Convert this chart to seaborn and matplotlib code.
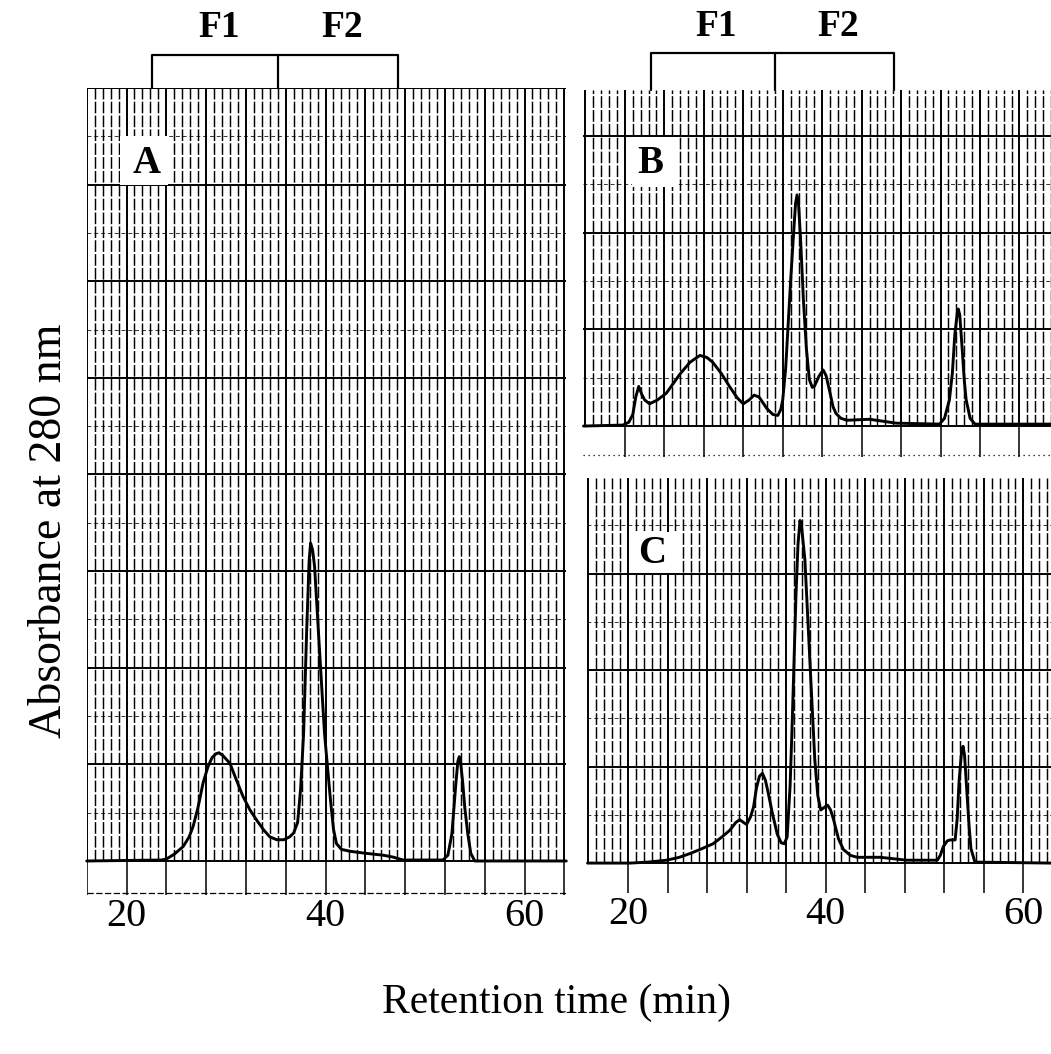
import numpy as np
import pandas as pd
import matplotlib
matplotlib.use("Agg")
import matplotlib.pyplot as plt
from matplotlib.patches import Rectangle
import seaborn as sns

# chromatogram traces (time in min, absorbance in chart divisions)
time_a = [16.0, 23.5, 24.0, 24.8, 25.7, 26.3, 26.7, 27.2, 27.7, 28.2, 28.6, 29.0, 29.3, 29.7,
          30.4, 31.0, 31.7, 32.4, 33.1, 33.8, 34.4, 35.1, 35.8, 36.4, 36.8, 37.2, 37.5, 37.8,
          38.1, 38.35, 38.5, 38.7, 38.9, 39.4, 39.9, 40.5, 40.8, 41.1, 41.6, 42.5, 44.0, 45.8,
          46.8, 47.8, 51.8, 52.3, 52.7, 53.1, 53.3, 53.45, 53.6, 53.8, 54.0, 54.3, 54.6, 55.0,
          64.2]
abs_a = [0.0, 0.01, 0.02, 0.07, 0.15, 0.25, 0.36, 0.56, 0.81, 0.98, 1.07, 1.11, 1.12, 1.09,
         1.01, 0.85, 0.67, 0.53, 0.42, 0.32, 0.25, 0.22, 0.22, 0.25, 0.29, 0.40, 0.75, 1.32,
         2.36, 3.10, 3.29, 3.22, 3.05, 2.18, 1.32, 0.63, 0.33, 0.18, 0.12, 0.10, 0.08, 0.06,
         0.04, 0.01, 0.01, 0.06, 0.28, 0.80, 1.03, 1.08, 1.00, 0.80, 0.55, 0.28, 0.08, 0.0,
         0.0]

time_b = [15.8, 19.8, 20.4, 20.8, 21.1, 21.4, 21.7, 22.0, 22.5, 23.3, 24.2, 25.6, 26.6, 27.6,
          28.3, 28.9, 29.8, 30.6, 31.4, 32.0, 32.6, 33.1, 33.6, 34.4, 35.0, 35.5, 35.8, 36.0,
          36.3, 36.5, 36.8, 37.1, 37.3, 37.45, 37.6, 37.8, 38.1, 38.4, 38.7, 39.0, 39.2, 39.7,
          40.1, 40.4, 40.8, 41.1, 41.4, 41.9, 42.5, 44.8, 47.5, 51.9, 52.4, 52.9, 53.2, 53.45,
          53.7, 53.8, 53.95, 54.2, 54.4, 54.6, 55.0, 55.5, 63.2]
abs_b = [0.0, 0.01, 0.04, 0.12, 0.30, 0.41, 0.33, 0.27, 0.23, 0.27, 0.34, 0.54, 0.66, 0.73,
         0.71, 0.66, 0.54, 0.41, 0.29, 0.23, 0.27, 0.32, 0.30, 0.18, 0.12, 0.11, 0.17, 0.27,
         0.60, 0.96, 1.50, 1.99, 2.30, 2.39, 2.30, 1.95, 1.30, 0.80, 0.48, 0.40, 0.41, 0.52,
         0.58, 0.52, 0.34, 0.20, 0.13, 0.08, 0.06, 0.07, 0.03, 0.02, 0.08, 0.27, 0.55, 0.95,
         1.17, 1.21, 1.15, 0.79, 0.48, 0.27, 0.08, 0.02, 0.02]

time_c = [15.9, 20.2, 22.0, 23.9, 25.2, 26.3, 27.5, 28.6, 29.5, 30.3, 30.9, 31.3, 31.7, 32.0,
          32.4, 32.7, 33.0, 33.3, 33.6, 33.9, 34.2, 34.6, 35.1, 35.5, 35.8, 36.1, 36.4, 36.6,
          36.8, 37.0, 37.2, 37.4, 37.6, 37.9, 38.4, 38.9, 39.2, 39.5, 39.9, 40.2, 40.5, 40.8,
          41.3, 41.8, 42.5, 43.2, 45.5, 48.2, 51.3, 51.6, 51.9, 52.3, 52.6, 53.1, 53.3, 53.5,
          53.75, 53.9, 54.05, 54.3, 54.5, 54.7, 55.1, 62.8]
abs_c = [0.0, 0.0, 0.01, 0.03, 0.06, 0.10, 0.15, 0.20, 0.27, 0.34, 0.42, 0.45, 0.42, 0.40,
         0.48, 0.58, 0.78, 0.90, 0.93, 0.86, 0.72, 0.52, 0.30, 0.21, 0.20, 0.27, 0.80, 1.41,
         2.10, 2.79, 3.30, 3.55, 3.45, 3.14, 2.10, 1.07, 0.70, 0.55, 0.58, 0.60, 0.55, 0.45,
         0.25, 0.14, 0.08, 0.06, 0.06, 0.03, 0.03, 0.08, 0.17, 0.23, 0.24, 0.24, 0.45, 0.85,
         1.15, 1.21, 1.12, 0.72, 0.40, 0.15, 0.01, 0.0]

x_ticks = [20, 40, 60]
fraction_edges = [22.6, 35.2, 47.3]
fraction_names = ["F1", "F2"]
panel_names = ["A", "B", "C"]

sns.set_theme(style="white")
plt.rcParams["font.family"] = ["Liberation Serif", "DejaVu Serif"]
plt.rcParams["text.color"] = "black"
plt.rcParams["xtick.color"] = "black"

W, H = 1051, 1054
fig = plt.figure(figsize=(W / 100, H / 100), dpi=100)


def px_axes(left, top, right, bottom):
    return fig.add_axes([left / W, 1 - bottom / H, (right - left) / W, (bottom - top) / H])


# axes placed in pixel boxes, limits chosen so the chart paper lines up
ax_a = px_axes(86.7, 88, 566.3, 895)
ax_a.set_xlim(16, 64.2)
ax_a.set_ylim(-0.352, 8.0)

ax_b = px_axes(583, 90, 1051, 457)
ax_b.set_xlim(15.75, 63.2)
ax_b.set_ylim(-0.32, 3.475)

ax_c = px_axes(587, 478, 1051, 893)
ax_c.set_xlim(15.85, 62.8)
ax_c.set_ylim(-0.31, 3.99)


def chart_paper(ax, n_major, first_box, top_line=False, bottom_line=None):
    x0, x1 = ax.get_xlim()
    y0, y1 = ax.get_ylim()
    ytop = min(y1, n_major)
    # fine vertical rulings every 0.8 min, heavier every 4 min
    for x in np.arange(16, x1 + 0.01, 0.8):
        if abs((x - 16) / 4 - round((x - 16) / 4)) < 1e-6:
            ax.plot([x, x], [0, y1], color="black", lw=1.4, zorder=1)
        else:
            ax.plot([x, x], [0, y1], color="black", lw=1.05, ls=(0, (8, 1.5)), zorder=1)
    # boxes below the baseline
    for x in np.arange(first_box, x1 + 0.01, 4):
        ax.plot([x, x], [y0, 0], color="black", lw=1.1, zorder=1)
    # horizontal rulings
    for y in np.arange(0, ytop + 0.01, 1):
        ax.axhline(y, color="black", lw=1.4, zorder=1)
    for y in np.arange(0.5, y1, 1):
        ax.axhline(y, color="black", lw=0.7, ls=(0, (4, 3)), alpha=0.8, zorder=1)
    if top_line:
        ax.axhline(y1, color="black", lw=1.3, zorder=1)
    if bottom_line:
        ax.axhline(y0 + 0.02, color="black", lw=0.9, ls=bottom_line, zorder=1)


chart_paper(ax_a, 8, 16, top_line=True, bottom_line=(0, (5, 2)))
chart_paper(ax_b, 3, 20, bottom_line=(0, (1, 3)))
chart_paper(ax_c, 4, 20)

traces = [(ax_a, time_a, abs_a), (ax_b, time_b, abs_b), (ax_c, time_c, abs_c)]
for ax, t, a in traces:
    df = pd.DataFrame({"time": t, "absorbance": a})
    sns.lineplot(data=df, x="time", y="absorbance", ax=ax, color="black", lw=2.1,
                 zorder=5, clip_on=False)

# panel letters in white boxes
label_spots = {"A": (19.35, 7.0, 4.85, 0.5, 22.0, 7.22),
               "B": (20.67, 2.47, 4.75, 0.52, 22.6, 2.72),
               "C": (20.5, 3.01, 4.8, 0.42, 22.4, 3.21)}
for ax, name in zip([ax_a, ax_b, ax_c], panel_names):
    rx, ry, rw, rh, tx, ty = label_spots[name]
    ax.add_patch(Rectangle((rx, ry), rw, rh, facecolor="white", edgecolor="none", zorder=3))
    ax.text(tx, ty, name, fontsize=28, fontweight="bold", ha="center", va="center", zorder=4)

# fraction brackets above A and B
for ax, base, top, ftext in [(ax_a, 8.0, 8.34, 8.63), (ax_b, 3.475, 3.857, 4.13)]:
    e0, e1, e2 = fraction_edges
    ax.plot([e0, e0, e2, e2], [base, top, top, base], color="black", lw=1.6, clip_on=False)
    ax.plot([e1, e1], [base, top], color="black", lw=1.6, clip_on=False)
    ax.text((e0 + e1) / 2 + 0.4, ftext, fraction_names[0], fontsize=27, fontweight="bold",
            ha="center", va="center")
    ax.text((e1 + e2) / 2 + 0.4, ftext, fraction_names[1], fontsize=27, fontweight="bold",
            ha="center", va="center")

for ax in [ax_a, ax_b, ax_c]:
    ax.set_xlabel("")
    ax.set_ylabel("")
    ax.set_yticks([])
    for s in ax.spines.values():
        s.set_visible(False)

for ax in [ax_a, ax_c]:
    ax.set_xticks(x_ticks)
    ax.set_xticklabels([str(v) for v in x_ticks])
    ax.tick_params(axis="x", length=0, pad=2, labelsize=29, labelcolor="black")
ax_b.set_xticks([])

fig.text(50 / W, 1 - 531 / H, "Absorbance at 280 nm", rotation=90, fontsize=33,
         ha="center", va="center", color="black")
fig.text(556 / W, 1 - 1003 / H, "Retention time (min)", fontsize=30, ha="center",
         va="center", color="black")

fig.savefig("out.png", dpi=100, facecolor="white")
